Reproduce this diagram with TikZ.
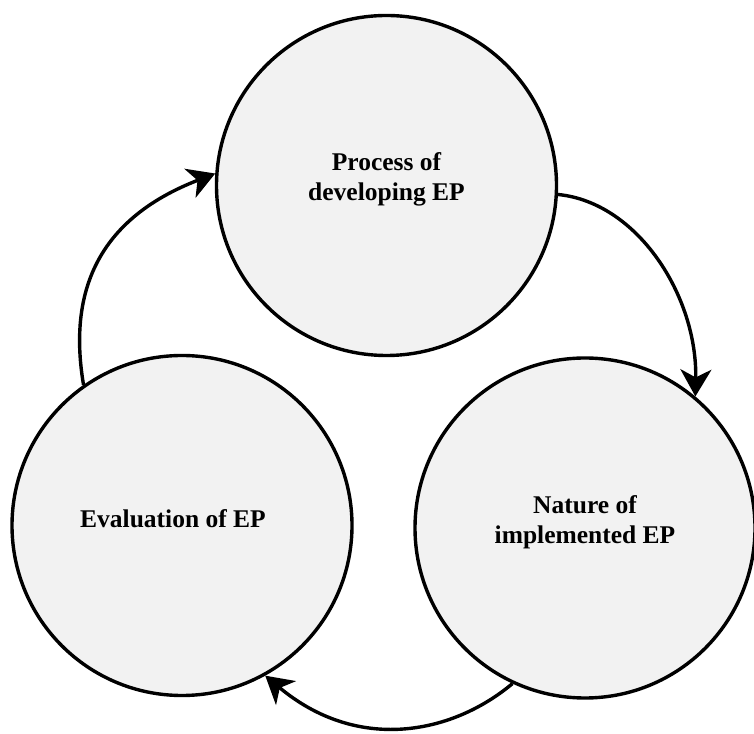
\documentclass[tikz,border=0pt]{standalone}
\usepackage{fontspec}
\setmainfont{Liberation Serif}
\usetikzlibrary{arrows.meta}

\tikzset{
  stage/.style={circle, draw=black, line width=3.4pt, fill=gray!10,
    minimum size=340pt, inner sep=0pt},
  stagetext/.style={align=center, inner sep=0pt,
    font=\bfseries\fontsize{25.5}{30}\selectfont},
  flow/.style={line width=3.4pt,
    -{Stealth[length=27pt, width=31pt, inset=8pt]}}
}

\begin{document}
\begin{tikzpicture}[x=1pt, y=1pt]
  \useasboundingbox (0,0) rectangle (754,733);

  % the three stages of the cycle
  \node[stage] (dev) at (386.5,547.5) {};
  \node[stage] (nat) at (585,205) {};
  \node[stage] (eva) at (182,207.5) {};

  % stage labels
  \node[stagetext] (devtext) at ([yshift=6pt]dev.center) {Process of\\developing EP};
  \node[stagetext] (nattext) at ([yshift=6pt]nat.center) {Nature of\\implemented EP};
  \node[stagetext] (evatext) at ([xshift=-9pt,yshift=7pt]eva.center) {Evaluation of EP};

  % curved arrows running clockwise round the cycle
  \draw[flow] (dev.-3) .. controls +(80,-8) and +(2,100) .. (nat.50);
  \draw[flow] (nat.245) .. controls +(-61,-51) and +(92,-77) .. (eva.-61);
  \draw[flow] (eva.125) .. controls +(-20,118) and +(-93,-36) .. (dev.176);
\end{tikzpicture}
\end{document}
